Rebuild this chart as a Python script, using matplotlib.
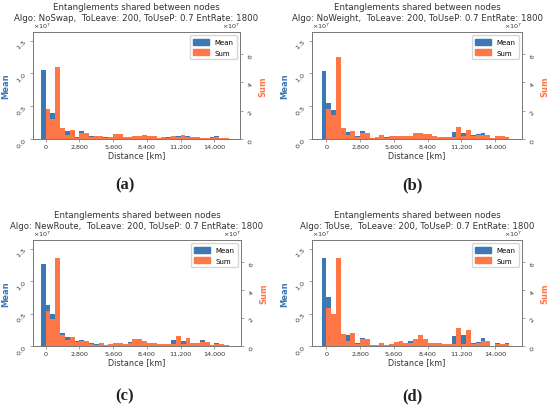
import matplotlib
matplotlib.use("Agg")
import matplotlib.pyplot as plt
from matplotlib.ticker import ScalarFormatter
from matplotlib.patches import Patch

# ---------------- data (values in units of 1e7) ----------------
bin_left_km = [-400 + 400 * i for i in range(39)]
bin_width_km = 400

algos = ["NoSwap", "NoWeight", "NewRoute", "ToUse"]
captions = ["a", "b", "c", "d"]

mean_a = [1.05, 0.44, 0.39, 0.30, 0.15, 0.128, 0.06, 0.03, 0.118, 0.05, 0.05, 0.02, 0.02,
          0.026, 0.02, 0.02, 0.02, 0.02, 0.02, 0.02, 0.02, 0.02, 0.02, 0.02, 0.015, 0.02,
          0.026, 0.02, 0.04, 0.03, 0.04, 0.02, 0.02, 0.015, 0.01, 0.026, 0.04, 0.015, 0.01]
sum_a = [0.0, 2.14, 1.38, 5.12, 0.76, 0.31, 0.64, 0.07, 0.43, 0.45, 0.17, 0.19, 0.19,
         0.10, 0.17, 0.33, 0.33, 0.14, 0.14, 0.19, 0.19, 0.26, 0.19, 0.19, 0.10, 0.12,
         0.10, 0.21, 0.17, 0.29, 0.17, 0.17, 0.12, 0.10, 0.05, 0.06, 0.17, 0.10, 0.05]

mean_b = [1.04, 0.55, 0.44, 0.35, 0.15, 0.113, 0.06, 0.05, 0.118, 0.06, 0.02, 0.036, 0.03,
          0.036, 0.02, 0.03, 0.03, 0.02, 0.05, 0.03, 0.03, 0.03, 0.03, 0.02, 0.02, 0.02,
          0.02, 0.113, 0.08, 0.087, 0.06, 0.056, 0.072, 0.097, 0.03, 0.01, 0.05, 0.02, 0.01]
sum_b = [0.0, 2.10, 1.67, 5.79, 0.79, 0.29, 0.60, 0.17, 0.40, 0.43, 0.07, 0.12, 0.29,
         0.10, 0.19, 0.24, 0.24, 0.19, 0.19, 0.43, 0.43, 0.33, 0.33, 0.24, 0.14, 0.12,
         0.12, 0.12, 0.86, 0.21, 0.64, 0.21, 0.29, 0.29, 0.29, 0.05, 0.19, 0.19, 0.12]

mean_c = [1.27, 0.63, 0.49, 0.40, 0.20, 0.135, 0.07, 0.078, 0.093, 0.05, 0.04, 0.025, 0.03,
          0.01, 0.02, 0.03, 0.03, 0.02, 0.062, 0.04, 0.04, 0.03, 0.03, 0.03, 0.02, 0.02,
          0.02, 0.093, 0.08, 0.078, 0.05, 0.047, 0.05, 0.093, 0.03, 0.01, 0.047, 0.02, 0.01]
sum_c = [0.0, 2.52, 1.90, 6.30, 0.79, 0.43, 0.67, 0.29, 0.34, 0.34, 0.17, 0.07, 0.22,
         0.07, 0.12, 0.19, 0.19, 0.12, 0.22, 0.48, 0.50, 0.38, 0.22, 0.22, 0.14, 0.12,
         0.12, 0.14, 0.74, 0.14, 0.55, 0.19, 0.19, 0.29, 0.26, 0.07, 0.17, 0.17, 0.07]

mean_d = [1.36, 0.75, 0.45, 0.45, 0.16, 0.176, 0.08, 0.052, 0.124, 0.06, 0.01, 0.016, 0.03,
          0.016, 0.02, 0.03, 0.03, 0.02, 0.073, 0.05, 0.05, 0.04, 0.03, 0.03, 0.02, 0.02,
          0.02, 0.155, 0.1, 0.166, 0.1, 0.047, 0.062, 0.124, 0.04, 0.005, 0.052, 0.02, 0.052]
sum_d = [0.0, 2.70, 2.28, 6.30, 0.86, 0.36, 0.91, 0.17, 0.48, 0.48, 0.05, 0.05, 0.19,
         0.05, 0.17, 0.29, 0.34, 0.19, 0.22, 0.53, 0.79, 0.48, 0.24, 0.24, 0.24, 0.12,
         0.12, 0.12, 1.25, 0.12, 1.15, 0.17, 0.22, 0.34, 0.38, 0.02, 0.17, 0.17, 0.14]

means = [mean_a, mean_b, mean_c, mean_d]
sums = [sum_a, sum_b, sum_c, sum_d]

xtick_km = [0, 2800, 5600, 8400, 11200, 14000]
mean_ticks = [0, 0.5, 1.0, 1.5]
sum_ticks = [0, 2, 4, 6]

SCALE = 1e7
BLUE = "#3b78b4"
ORANGE = "#ff7647"
SPINE = "#7a7a7a"
TXT = "#333333"

# ---------------- layout (figure fractions) ----------------
W, H = 550, 406
boxes = [  # left, right, top, bottom in pixels
    (33, 240, 33, 140),
    (312, 522, 33, 140),
    (33, 241, 241, 347),
    (312, 522, 241, 347),
]
xlims = [(-1050, 16130), (-1190, 16240), (-1050, 16200), (-1190, 16240)]
cap_pos = [(125, 185), (412, 185), (125, 396), (412, 396)]

fig = plt.figure(figsize=(W / 100, H / 100), dpi=100)

ymax_mean = 1.2 * max(max(m) for m in means) * SCALE
ymax_sum = 1.2 * max(max(s) for s in sums) * SCALE

for k in range(4):
    l, r, t, b = boxes[k]
    ax = fig.add_axes([l / W, 1 - b / H, (r - l) / W, (b - t) / H])
    ax2 = ax.twinx()

    ax.bar(bin_left_km, [v * SCALE for v in means[k]], width=bin_width_km,
           align="edge", color=BLUE, linewidth=0)
    ax2.bar(bin_left_km, [v * SCALE for v in sums[k]], width=bin_width_km,
            align="edge", color=ORANGE, linewidth=0)

    ax.set_xlim(*xlims[k])
    ax.set_ylim(0, ymax_mean)
    ax2.set_ylim(0, ymax_sum)

    ax.set_xticks(xtick_km)
    ax.set_xticklabels([f"{v:,}" for v in xtick_km])
    ax.set_yticks([v * SCALE for v in mean_ticks])
    ax2.set_yticks([v * SCALE for v in sum_ticks])

    for a in (ax, ax2):
        fmt = ScalarFormatter(useMathText=True)
        fmt.set_powerlimits((0, 0))
        a.yaxis.set_major_formatter(fmt)
        a.yaxis.get_offset_text().set_fontsize(4.6)
        a.yaxis.get_offset_text().set_color(TXT)
        for s in a.spines.values():
            s.set_color(SPINE)
            s.set_linewidth(0.7)
        a.tick_params(length=2, width=0.5, colors=SPINE, labelcolor=TXT,
                      labelsize=4.6, pad=1.5)
    ax.tick_params(axis="y", labelrotation=45)
    ax2.tick_params(axis="y", labelrotation=45)

    ax.set_xlabel("Distance [km]", fontsize=5.9, color=TXT, labelpad=1)
    ax.set_ylabel("Mean", fontsize=6, color=BLUE, fontweight="bold", labelpad=3)
    ax2.set_ylabel("Sum", fontsize=6, color=ORANGE, fontweight="bold", labelpad=3)

    ax.set_title("Entanglements shared between nodes\n"
                 f"Algo: {algos[k]},  ToLeave: 200, ToUseP: 0.7 EntRate: 1800",
                 fontsize=6.2, color=TXT, y=1.0, pad=8.5, linespacing=1.25)

    handles = [Patch(color=BLUE, label="Mean"), Patch(color=ORANGE, label="Sum")]
    ax2.legend(handles=handles, loc="upper right", fontsize=5, frameon=True,
               handlelength=2.2, handleheight=0.9, borderpad=0.5,
               labelspacing=0.6, edgecolor="#cccccc", fancybox=True)

    cx, cy = cap_pos[k]
    fig.text(cx / W, 1 - cy / H, f"({captions[k]})", ha="center", va="center",
             fontsize=12, fontweight="bold", family="Liberation Serif", color="#222222")

fig.savefig("out.png", dpi=100, facecolor="white")
